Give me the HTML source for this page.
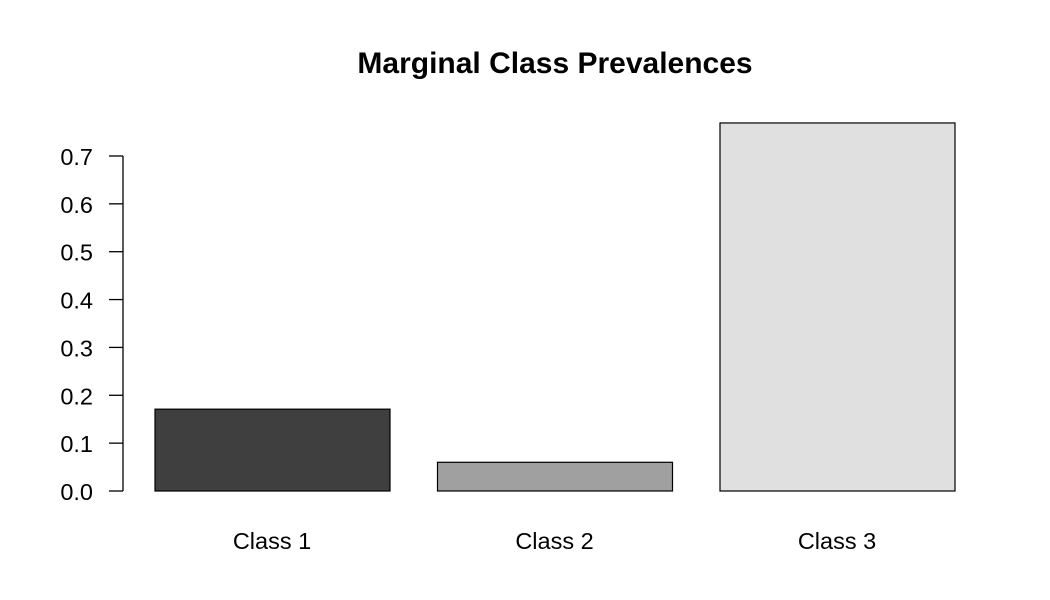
<!DOCTYPE html>
<html><head><meta charset="utf-8"><style>
html,body{margin:0;padding:0;background:#fff;}
svg{display:block;font-family:"Liberation Sans",Arial,sans-serif;}
</style></head><body>
<svg id="chart" width="1050" height="600">
<text x="555" y="73" text-anchor="middle" font-size="30" font-weight="bold">Marginal Class Prevalences</text>
<g id="yaxis"></g>
<g id="bars"></g>
</svg>
<script>
const categories = ["Class 1","Class 2","Class 3"];
const values = [0.171, 0.060, 0.769];
const colors = ["#3f3f3f","#a0a0a0","#e0e0e0"];
const yTicks = [0,0.1,0.2,0.3,0.4,0.5,0.6,0.7];
const yTickLabels = ["0.0","0.1","0.2","0.3","0.4","0.5","0.6","0.7"];
const NS="http://www.w3.org/2000/svg";
const y0=491, pxPerUnit=478.6;
function y(v){return y0 - v*pxPerUnit;}
function x(i){return 155 + i*282.5;}
const barW=235;
const ya=document.getElementById('yaxis');
function mk(t,a,p){const e=document.createElementNS(NS,t);for(const k in a)e.setAttribute(k,a[k]);p.appendChild(e);return e;}
const al=mk('line',{x1:123,x2:123,y1:y(yTicks[0]),y2:y(yTicks[yTicks.length-1]),stroke:'#000','stroke-width':1.3},ya);


yTicks.forEach((t,i)=>{
  const l=mk('line',{x1:109,x2:123,y1:y(t),y2:y(t),stroke:'#000','stroke-width':1.3},ya);
  
  
  const tx=mk('text',{x:93,y:y(t)+9,'text-anchor':'end','font-size':23.5},ya);
  tx.textContent=yTickLabels[i];
  
  
});
const bg=document.getElementById('bars');
categories.forEach((c,i)=>{
  const r=mk('rect',{x:x(i),y:y(values[i]),width:barW,height:y(0)-y(values[i]),fill:colors[i],stroke:'#000','stroke-width':1.2},bg);
  
  
  const tx=mk('text',{x:x(i)+barW/2-0.5,y:549,'text-anchor':'middle','font-size':23.5},bg);
  tx.textContent=c;
  
  
});
</script>
</body></html>
